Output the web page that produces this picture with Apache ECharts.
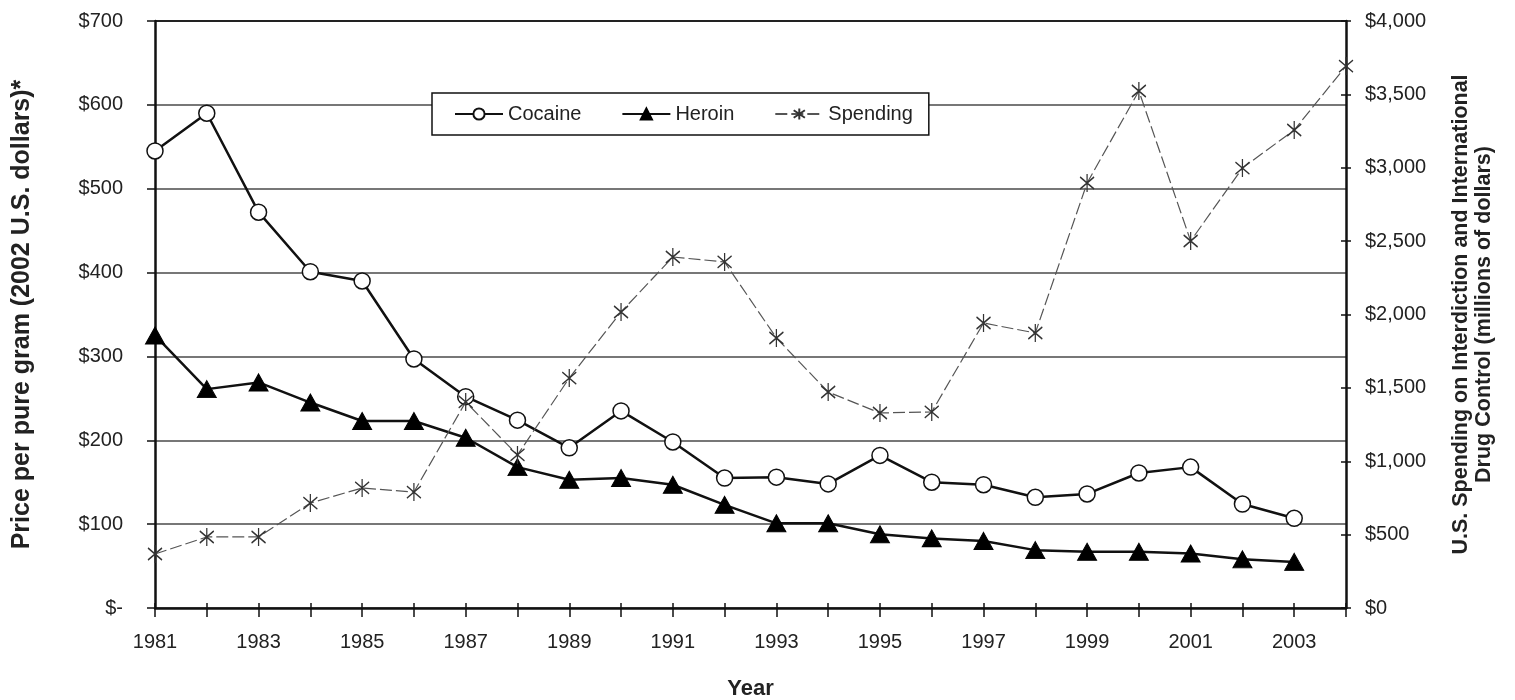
<!DOCTYPE html>
<html>
<head>
<meta charset="utf-8">
<script src="https://cdn.jsdelivr.net/npm/echarts@6/dist/echarts.min.js"></script>
<style>
html,body{margin:0;padding:0;background:#fff;}
#chart{width:1515px;height:700px;}
</style>
</head>
<body>
<div id="chart"></div>
<script>
const years = ['1981','1982','1983','1984','1985','1986','1987','1988','1989','1990','1991','1992','1993','1994','1995','1996','1997','1998','1999','2000','2001','2002','2003','2004'];
// Price per pure gram (2002 US dollars)
const cocaine = [545,590,472,401,390,297,252,224,191,235,198,155,156,148,182,150,147,132,136,161,168,124,107];
const heroin  = [325,261,269,245,223,223,203,168,153,155,147,123,101,101,88,83,80,69,67,67,65,58,55];
// US spending on interdiction and international drug control (millions)
const spending = [368,484,484,715,818,790,1404,1043,1567,2017,2392,2358,1840,1472,1329,1336,1942,1874,2896,3523,2501,2998,3257,3693];

const leftTicks = {min:0, max:700, interval:100};
const rightTicks = {min:0, max:4000, interval:500};

const FONT = 'Liberation Sans, Arial, sans-serif';
const asterisk = 'path://M7,0L7,18M0,3L14,15M14,3L0,15';

const chart = echarts.init(document.getElementById('chart'), null, {renderer:'canvas'});
const gridColors = ['#777','#777','#777','#777','#777','#777','#777','#222'];

chart.setOption({
  backgroundColor:'#fff',
  animation:false,
  textStyle:{fontFamily:FONT},
  grid:{left:155, right:169, top:21, bottom:92, containLabel:false, outerBoundsMode:'none'},
  legend:{
    left:432, top:93,
    backgroundColor:'#fff', borderColor:'#111', borderWidth:1.5,
    padding:[11,16,11,22], itemGap:40, itemWidth:48, itemHeight:14,
    textStyle:{fontFamily:FONT, fontSize:20, color:'#222'},
    data:['Cocaine','Heroin','Spending']
  },
  xAxis:[{
    type:'category', data:years, boundaryGap:false,
    name:'Year', nameLocation:'middle', nameGap:70,
    nameTextStyle:{fontFamily:FONT, fontSize:22, fontWeight:'bold', color:'#222'},
    axisLine:{lineStyle:{color:'#111', width:2.5}},
    axisTick:{show:true, interval:0, length:9, lineStyle:{color:'#111', width:1.5}},
    axisLabel:{interval:1, margin:24, fontSize:20, color:'#222', fontFamily:FONT},
    splitLine:{show:false}
  },{
    type:'category', data:years, boundaryGap:false, position:'bottom',
    axisLine:{show:false},
    axisTick:{show:true, inside:true, interval:0, length:5, lineStyle:{color:'#111', width:1.5}},
    axisLabel:{show:false}, splitLine:{show:false}
  }],
  yAxis:[{
    type:'value', position:'left', min:leftTicks.min, max:leftTicks.max, interval:leftTicks.interval,
    name:'Price per pure gram (2002 U.S. dollars)*', nameLocation:'middle', nameGap:120,
    nameTextStyle:{fontFamily:FONT, fontSize:25, fontWeight:'bold', color:'#222'},
    axisLine:{show:true, lineStyle:{color:'#111', width:2.5}},
    axisTick:{show:true, length:8, lineStyle:{color:'#111', width:1.5}},
    axisLabel:{margin:32, fontSize:20, color:'#222', fontFamily:FONT,
      formatter:v => v === 0 ? '$-' : '$' + v},
    splitLine:{show:true, lineStyle:{color:gridColors, width:2}}
  },{
    type:'value', position:'right', min:rightTicks.min, max:rightTicks.max, interval:rightTicks.interval,
    name:'U.S. Spending on Interdiction and International\nDrug Control (millions of dollars)',
    nameLocation:'middle', nameGap:104,
    nameTextStyle:{fontFamily:FONT, fontSize:21.5, fontWeight:'bold', color:'#222', lineHeight:23, align:'center'},
    axisLine:{show:true, lineStyle:{color:'#111', width:2.5}},
    axisTick:{show:true, length:5, lineStyle:{color:'#111', width:1.5}},
    axisLabel:{margin:19, fontSize:20, color:'#222', fontFamily:FONT,
      formatter:v => '$' + v.toLocaleString('en-US')},
    splitLine:{show:false}
  },{
    type:'value', position:'right', min:rightTicks.min, max:rightTicks.max, interval:rightTicks.interval,
    axisLine:{show:false},
    axisTick:{show:true, inside:true, length:5, lineStyle:{color:'#111', width:1.5}},
    axisLabel:{show:false}, splitLine:{show:false}
  }],
  series:[{
    name:'Cocaine', type:'line', xAxisIndex:0, yAxisIndex:0, data:cocaine,
    symbol:'circle', symbolSize:16, showAllSymbol:true,
    lineStyle:{color:'#111', width:2.5},
    itemStyle:{color:'#fff', borderColor:'#111', borderWidth:1.5},
    z:3
  },{
    name:'Heroin', type:'line', xAxisIndex:0, yAxisIndex:0, data:heroin,
    symbol:'triangle', symbolSize:[19,17], showAllSymbol:true,
    lineStyle:{color:'#111', width:2.5},
    itemStyle:{color:'#000', borderColor:'#000', borderWidth:1},
    z:3
  },{
    name:'Spending', type:'line', xAxisIndex:0, yAxisIndex:1, data:spending,
    symbol:asterisk, symbolSize:[14,18], symbolKeepAspect:false, showAllSymbol:true,
    lineStyle:{color:'#555', width:1.2, type:[12,4]},
    itemStyle:{color:'#333', borderColor:'#333', borderWidth:1.4},
    z:4
  }]
});
</script>
</body>
</html>
